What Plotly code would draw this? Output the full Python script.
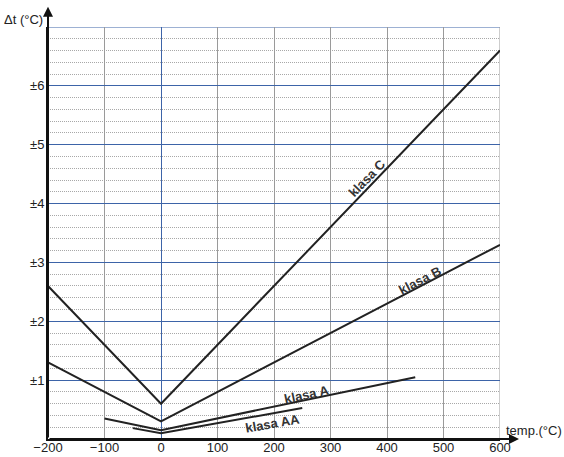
import plotly.graph_objects as go

# Tolerance classes (Δt in °C) vs temperature
temps_C = [-200, 0, 600]
tol_C = [2.6, 0.6, 6.6]
temps_B = [-200, 0, 600]
tol_B = [1.3, 0.3, 3.3]
temps_A = [-100, 0, 450]
tol_A = [0.35, 0.15, 1.05]
temps_AA = [-50, 0, 250]
tol_AA = [0.185, 0.1, 0.525]

x_ticks = [-200, -100, 0, 100, 200, 300, 400, 500, 600]
y_ticks = [1, 2, 3, 4, 5, 6]
y_tick_labels = ["±1", "±2", "±3", "±4", "±5", "±6"]

labels = ["klasa C", "klasa B", "klasa A", "klasa AA"]
label_x = [364, 458, 258, 198]
label_y = [4.43, 2.70, 0.75, 0.27]
label_angle = [-46, -27.5, -12, -10]

LINE = "#222222"
BLUE = "#3d64a8"
GRAY = "#9a9a9a"
FONT = "Liberation Sans, Arial, sans-serif"

minor_vals = [round(i * 0.2, 1) for i in range(36) if i % 5 != 0]

fig = go.Figure()
for xs, ys in [(temps_C, tol_C), (temps_B, tol_B), (temps_A, tol_A), (temps_AA, tol_AA)]:
    fig.add_trace(go.Scatter(x=xs, y=ys, mode="lines",
                             line=dict(color=LINE, width=2), showlegend=False,
                             hoverinfo="skip"))

for t, x, y, a in zip(labels, label_x, label_y, label_angle):
    fig.add_annotation(x=x, y=y, xref="x", yref="y", text="<b>" + t + "</b>",
                       showarrow=False, textangle=a,
                       font=dict(family=FONT, size=13, color="#333333"))

# axis arrows
fig.add_annotation(x=1.042, y=0, xref="x domain", yref="y domain", ax=0, ay=0,
                   axref="x domain", ayref="y domain", showarrow=True, arrowhead=2,
                   arrowsize=1, arrowwidth=2, arrowcolor="#111111", text="")
fig.add_annotation(x=0, y=1.049, xref="x domain", yref="y domain", ax=0, ay=0,
                   axref="x domain", ayref="y domain", showarrow=True, arrowhead=2,
                   arrowsize=1, arrowwidth=2, arrowcolor="#111111", text="")

fig.add_annotation(x=(45 - 48) / 452, y=(439 - 20) / 412, xref="paper", yref="paper",
                   text="Δt (°C)", showarrow=False, xanchor="right", yanchor="middle",
                   font=dict(family=FONT, size=13, color="#222222"))

fig.add_annotation(x=(504 - 48) / 452, y=(439 - 430) / 412, xref="paper", yref="paper",
                   text="temp.(°C)", showarrow=False, xanchor="left", yanchor="middle",
                   font=dict(family=FONT, size=13, color="#222222"))

fig.update_layout(
    width=564, height=457,
    margin=dict(l=48, r=64, t=27, b=18),
    paper_bgcolor="white", plot_bgcolor="white",
    font=dict(family=FONT, size=13, color="#222222"),
    xaxis=dict(range=[-200, 600], tickvals=x_ticks, showgrid=True,
               gridcolor=GRAY, gridwidth=1, zeroline=True, zerolinecolor=BLUE,
               zerolinewidth=1, showline=True, linecolor="#111111", linewidth=2,
               ticks="", ticklabelstandoff=-5, fixedrange=True, automargin=False),
    yaxis=dict(range=[0, 7], tickvals=y_ticks, ticktext=y_tick_labels,
               showgrid=True, gridcolor=BLUE, gridwidth=1, zeroline=False,
               showline=True, linecolor="#111111", linewidth=2, ticks="",
               ticklabelstandoff=-1,
               minor=dict(tickvals=minor_vals, showgrid=True, gridcolor="#a8a8a8",
                          griddash="1px,1px", gridwidth=1),
               fixedrange=True, automargin=False),
)
# top and right frame gridlines
fig.add_shape(type="line", xref="x", yref="y", x0=-200, x1=600, y0=7, y1=7,
              line=dict(color=BLUE, width=1), layer="below")
fig.add_shape(type="line", xref="x", yref="y", x0=600, x1=600, y0=0, y1=7,
              line=dict(color=GRAY, width=1), layer="below")

fig.write_html("out.html")
